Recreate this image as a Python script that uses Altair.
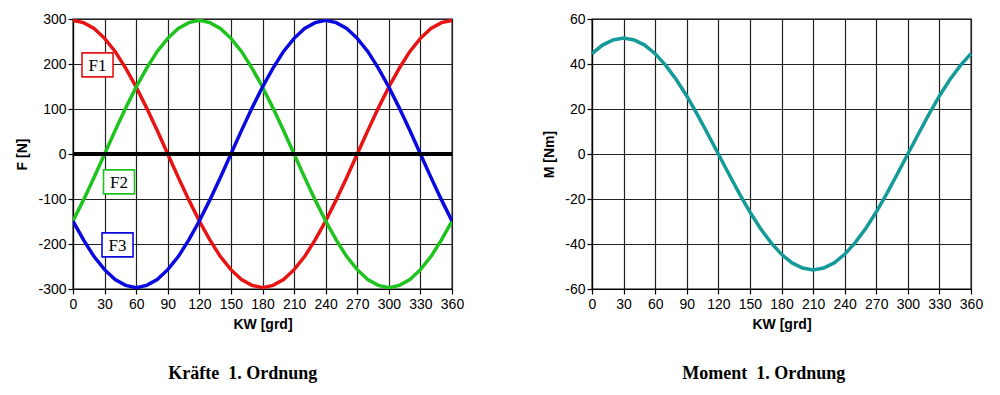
import altair as alt
import pandas as pd

# ---- data ----
kw = list(range(0, 361, 10))
f1 = [297, 292, 279, 257, 228, 191, 149, 102, 52, 0, -52, -102, -149, -191, -228, -257, -279, -292,
      -297, -292, -279, -257, -228, -191, -149, -102, -52, 0, 52, 102, 149, 191, 228, 257, 279, 292, 297]
f2 = [-149, -102, -52, 0, 52, 102, 149, 191, 228, 257, 279, 292, 297, 292, 279, 257, 228, 191,
      149, 102, 52, 0, -52, -102, -149, -191, -228, -257, -279, -292, -297, -292, -279, -257, -228, -191, -149]
f3 = [-149, -191, -228, -257, -279, -292, -297, -292, -279, -257, -228, -191, -149, -102, -52, 0, 52, 102,
      149, 191, 228, 257, 279, 292, 297, 292, 279, 257, 228, 191, 149, 102, 52, 0, -52, -102, -149]
moment = [44.6, 48.4, 50.7, 51.5, 50.7, 48.4, 44.6, 39.4, 33.1, 25.8, 17.6, 8.9, 0, -8.9, -17.6, -25.8,
          -33.1, -39.4, -44.6, -48.4, -50.7, -51.5, -50.7, -48.4, -44.6, -39.4, -33.1, -25.8, -17.6,
          -8.9, 0, 8.9, 17.6, 25.8, 33.1, 39.4, 44.6]

series_names = ["F1", "F2", "F3"]
series_colors = ["#e81414", "#1ec31e", "#0a0ae0"]
label_kw = [23.3, 43.7, 42.3]
label_val = [198, -62, -202]

x_ticks = list(range(0, 361, 30))
f_ticks = list(range(-300, 301, 100))
m_ticks = list(range(-60, 61, 20))

forces = pd.DataFrame({
    "kw": kw * 3,
    "val": f1 + f2 + f3,
    "series": ["F1"] * len(kw) + ["F2"] * len(kw) + ["F3"] * len(kw),
})
labels = pd.DataFrame({"kw": label_kw, "val": label_val, "series": series_names})
mdf = pd.DataFrame({"kw": kw, "val": moment})

W, H = 379, 270
NEG = "datum.value < 0 ? '-' + abs(datum.value) : '' + datum.value"

xenc = alt.X("kw:Q", title="KW [grd]",
             scale=alt.Scale(domain=[0, 360], nice=False, zero=False),
             axis=alt.Axis(values=x_ticks, labelPadding=3, titlePadding=6,
                           labelOverlap=False, labelFlush=False))
yF = alt.Y("val:Q", title="F [N]", scale=alt.Scale(domain=[-300, 300], nice=False),
           axis=alt.Axis(values=f_ticks, titlePadding=8, labelExpr=NEG, labelOverlap=False))
color = alt.Color("series:N", scale=alt.Scale(domain=series_names, range=series_colors), legend=None)

lines = alt.Chart(forces).mark_line(strokeWidth=3.5, clip=True).encode(x=xenc, y=yF, color=color)
zero = alt.Chart(forces).mark_rule(color="black", strokeWidth=4).encode(y=alt.datum(0))
boxes = alt.Chart(labels).mark_rect(width=31, height=24, fill="white", strokeWidth=1.6).encode(
    x=xenc, y=yF,
    stroke=alt.Stroke("series:N", scale=alt.Scale(domain=series_names, range=series_colors), legend=None),
)
texts = alt.Chart(labels).mark_text(font="Liberation Serif", fontSize=17, color="black", dy=1).encode(
    x=xenc, y=yF, text="series:N"
)

left = alt.layer(lines, zero, boxes, texts).properties(
    width=W, height=H,
    title=alt.TitleParams("Kräfte\u00a0 1. Ordnung", orient="bottom", frame="bounds",
                          font="Liberation Serif", fontSize=18, fontWeight="bold",
                          color="black", offset=34, dx=3),
)

right = alt.Chart(mdf).mark_line(strokeWidth=3.5, color="#159a9a").encode(
    x=xenc,
    y=alt.Y("val:Q", title="M [Nm]", scale=alt.Scale(domain=[-60, 60], nice=False),
            axis=alt.Axis(values=m_ticks, titlePadding=8, labelExpr=NEG, labelOverlap=False)),
).properties(
    width=W, height=H,
    title=alt.TitleParams("Moment\u00a0 1. Ordnung", orient="bottom", frame="bounds",
                          font="Liberation Serif", fontSize=18, fontWeight="bold",
                          color="black", offset=34, dx=1),
)

chart = alt.hconcat(left, right, spacing=140, bounds="flush").properties(
    padding={"left": 7, "top": 3, "right": 5, "bottom": 5}
).configure_view(
    stroke="black", strokeWidth=1.3
).configure_axis(
    grid=True, gridColor="#222222", gridWidth=1.2, gridOpacity=1,
    domainColor="black", domainWidth=1.2,
    tickColor="black", tickSize=5, tickWidth=1.2,
    labelOverlap=False,
    labelFont="Liberation Sans", labelFontSize=14, labelColor="black",
    titleFont="Liberation Sans", titleFontSize=14, titleFontWeight="bold", titleColor="black",
)

chart.save("out.html", embed_options={"renderer": "svg", "actions": False})
